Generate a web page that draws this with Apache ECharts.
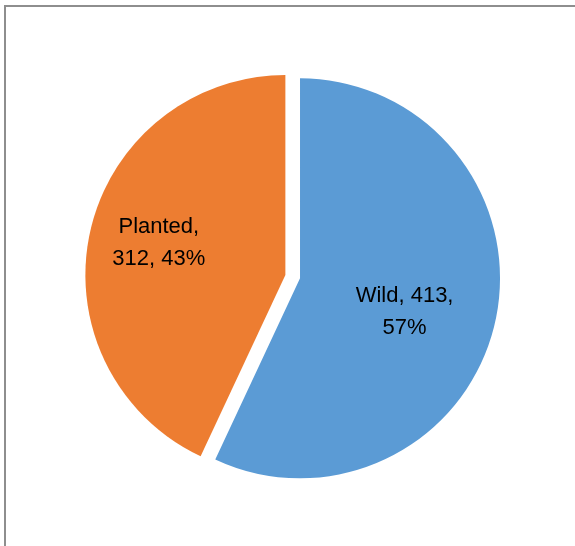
<!DOCTYPE html>
<html>
<head>
<meta charset="utf-8">
<style>
html,body{margin:0;padding:0;background:#fff;}
#chart{width:575px;height:546px;}
</style>
<script src="https://cdn.jsdelivr.net/npm/echarts@6/dist/echarts.min.js"></script>
</head>
<body>
<div id="chart"></div>
<script>
const categories = ['Wild', 'Planted'];
const values = [413, 312];
const colors = ['#5B9BD5', '#ED7D31'];
const labelTemplates = ['{b}, {c},\n{d}%', '{b},\n{c}, {d}%'];
const labelShifts = [[4, 11], [-26, -10]];

const chart = echarts.init(document.getElementById('chart'), null, {renderer: 'canvas'});
const data = categories.map((name, i) => ({
  name: name,
  value: values[i],
  selected: true,
  itemStyle: {color: colors[i]},
  label: {formatter: labelTemplates[i]}
}));

chart.setOption({
  animation: false,
  backgroundColor: '#ffffff',
  graphic: [{
    type: 'rect',
    shape: {x: 5, y: 6, width: 700, height: 700},
    style: {fill: 'none', stroke: '#8e8e8e', lineWidth: 2},
    silent: true
  }],
  series: [{
    type: 'pie',
    center: [292.7, 276.7],
    radius: [0, 200],
    startAngle: 90,
    clockwise: true,
    selectedMode: 'multiple',
    selectedOffset: 7.5,
    percentPrecision: 0,
    avoidLabelOverlap: false,
    emphasis: {disabled: true},
    itemStyle: {borderWidth: 0},
    label: {
      show: true,
      position: 'inside',
      color: '#000000',
      fontFamily: 'Liberation Sans',
      fontSize: 22,
      lineHeight: 32,
      align: 'center'
    },
    labelLayout: function (params) {
      const s = labelShifts[params.dataIndex];
      return {dx: s[0], dy: s[1]};
    },
    labelLine: {show: false},
    data: data
  }]
});
</script>
</body>
</html>
